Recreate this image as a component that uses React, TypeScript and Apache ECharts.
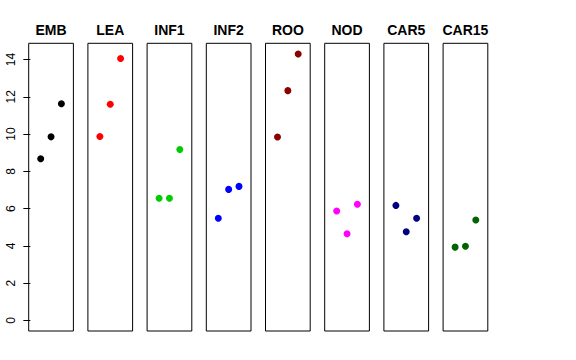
import React, { useEffect, useRef } from "react";
import * as echarts from "echarts";

const panels = ["EMB", "LEA", "INF1", "INF2", "ROO", "NOD", "CAR5", "CAR15"];
const colors = ["#000000", "#FF0000", "#00CD00", "#0000FF", "#8B0000", "#FF00FF", "#000080", "#006400"];
const xPositions = [1, 2, 3];
const values = [
  [8.67, 9.85, 11.63],
  [9.87, 11.6, 14.05],
  [6.55, 6.55, 9.17],
  [5.48, 7.03, 7.19],
  [9.84, 12.33, 14.3],
  [5.87, 4.65, 6.23],
  [6.17, 4.76, 5.48],
  [3.93, 3.98, 5.39],
];
const yTicks = [0, 2, 4, 6, 8, 10, 12, 14];

export default function App() {
  const ref = useRef<HTMLDivElement>(null);
  useEffect(() => {
    if (!ref.current) return;
    const chart = echarts.init(ref.current, null, { renderer: "svg" });
    const left0 = 28.7;
    const pitch = 59.2;
    const w = 44.7;
    const top = 43.3;
    const h = 287.7;
    const font = "'Liberation Sans', Arial, Helvetica, sans-serif";
    const grids: any[] = [];
    const xAxes: any[] = [];
    const yAxes: any[] = [];
    const series: any[] = [];
    const texts: any[] = [];
    panels.forEach((name, i) => {
      const left = left0 + i * pitch;
      grids.push({
        left,
        top,
        width: w,
        height: h,
        show: true,
        borderColor: "#000",
        borderWidth: 1,
        backgroundColor: "transparent",
        containLabel: false,
      });
      xAxes.push({
        type: "value",
        gridIndex: i,
        min: -0.16,
        max: 4.16,
        show: false,
      });
      yAxes.push({
        type: "value",
        gridIndex: i,
        min: -0.57,
        max: 14.87,
        show: i === 0,
        splitLine: { show: false },
        axisLine: { show: false },
        axisTick: {
          show: i === 0,
          length: 7,
          lineStyle: { color: "#000", width: 1 },
          customValues: yTicks,
        },
        axisLabel: {
          show: i === 0,
          rotate: 90,
          margin: 12,
          color: "#000",
          fontSize: 12,
          fontFamily: font,
          customValues: yTicks,
          verticalAlign: "bottom",
        },
      });
      series.push({
        type: "scatter",
        xAxisIndex: i,
        yAxisIndex: i,
        symbolSize: 7,
        itemStyle: { color: colors[i], opacity: 1 },
        data: values[i].map((v, k) => [xPositions[k], v]),
      });
      texts.push({
        type: "text",
        x: left + w / 2,
        y: 29.5,
        style: {
          text: name,
          textAlign: "center",
          textVerticalAlign: "middle",
          fontSize: 14,
          fontWeight: "bold",
          fill: "#000",
          fontFamily: font,
        },
      });
    });
    chart.setOption({
      animation: false,
      backgroundColor: "#fff",
      graphic: texts,
      grid: grids,
      xAxis: xAxes,
      yAxis: yAxes,
      series,
    });
    return () => chart.dispose();
  }, []);
  return <div ref={ref} style={{ width: 576, height: 360, position: "absolute", left: 0, top: 0 }} />;
}
